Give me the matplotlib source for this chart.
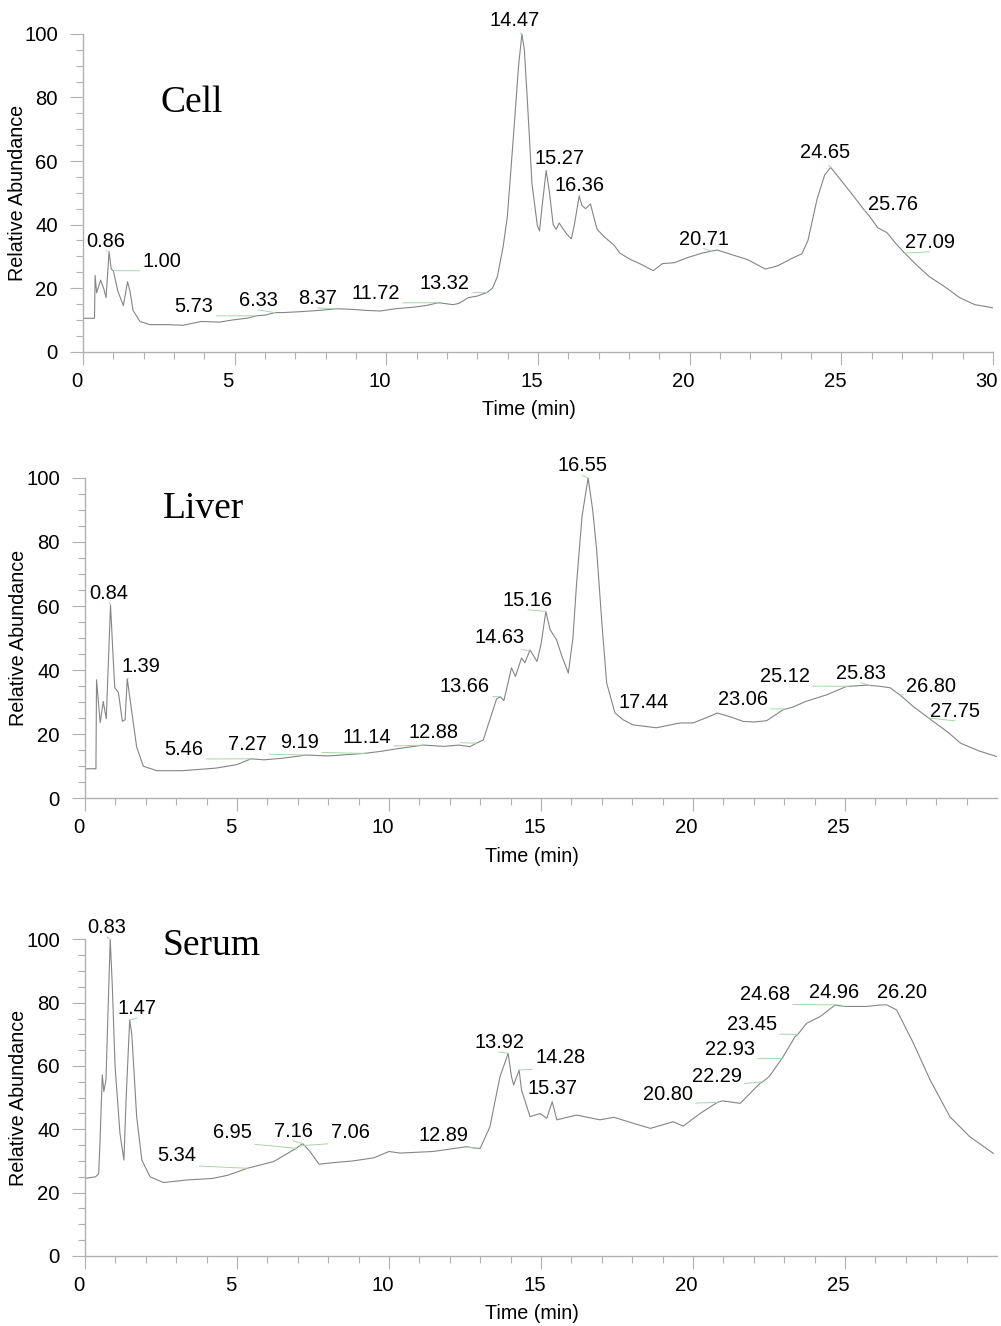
import numpy as np
import matplotlib
matplotlib.use('Agg')
import matplotlib.pyplot as plt
import matplotlib.transforms as mtransforms
from matplotlib.ticker import MultipleLocator, FixedLocator

plt.rcParams['font.family'] = ['Liberation Sans', 'DejaVu Sans']

# ---- Cell trace (time in min, relative abundance) ----
cell_t = [0.0, 0.38, 0.40, 0.45, 0.58, 0.68, 0.76, 0.86, 0.93, 1.00, 1.15, 1.33, 1.47, 1.55,
          1.65, 1.88, 2.2, 2.8, 3.3, 3.9, 4.5, 4.95, 5.4, 5.73, 6.0, 6.33, 6.6, 7.2, 7.8, 8.37,
          8.9, 9.3, 9.8, 10.3, 10.9, 11.3, 11.72, 12.2, 12.4, 12.7, 13.0, 13.32, 13.5, 13.66,
          13.85, 13.99, 14.2, 14.36, 14.47, 14.55, 14.65, 14.8, 14.98, 15.05, 15.15, 15.27,
          15.38, 15.5, 15.6, 15.7, 15.8, 15.95, 16.1, 16.2, 16.36, 16.45, 16.57, 16.73, 16.85,
          16.95, 17.2, 17.5, 17.7, 18.05, 18.4, 18.8, 19.1, 19.5, 19.9, 20.4, 20.9, 21.4, 21.9,
          22.2, 22.5, 22.9, 23.4, 23.7, 23.9, 24.2, 24.45, 24.65, 24.9, 25.4, 25.76, 25.9, 26.2,
          26.5, 26.8, 27.09, 27.4, 27.9, 28.4, 28.9, 29.4, 30.0]
cell_y = [10.5, 10.5, 24, 18.5, 22.5, 20, 17, 31.5, 26, 25.5, 19, 14.5, 22, 19,
          13, 9.5, 8.5, 8.5, 8.3, 9.5, 9.3, 10, 10.5, 11.3, 11.5, 12.3, 12.3, 12.6, 13.0, 13.5,
          13.3, 13.0, 12.8, 13.5, 14, 14.5, 15.4, 14.8, 15.2, 17, 17.5, 18.6, 20, 23.6,
          33, 42.5, 69, 90, 100, 95, 79, 53, 39.6, 38, 47, 57,
          50, 40, 38.5, 40.5, 39, 37, 35.5, 40, 49, 46, 45, 46.5, 42,
          38.5, 36, 33.6, 31, 29, 27.5, 25.5, 27.7, 28, 29.5, 31, 32, 30.5, 29,
          27.5, 26, 27, 29.5, 30.8, 35, 48, 55.6, 58, 55, 49, 44.5, 43, 39,
          37.5, 34, 31, 28, 23.6, 20.5, 17, 14.8, 13.8]
cell_peaks = ['0.86', '1.00', '5.73', '6.33', '8.37', '11.72', '13.32', '14.47', '15.27',
              '16.36', '20.71', '24.65', '25.76', '27.09']

# ---- Liver trace ----
liver_t = [0.0, 0.36, 0.38, 0.5, 0.6, 0.7, 0.84, 0.92, 0.98, 1.1, 1.23, 1.32, 1.39, 1.53,
           1.7, 1.92, 2.36, 3.2, 4.3, 5.0, 5.46, 5.9, 6.5, 7.07, 7.27, 8.0, 9.19, 9.7, 10.3,
           11.14, 11.8, 12.3, 12.66, 12.88, 13.1, 13.3, 13.54, 13.66, 13.78, 14.03, 14.16,
           14.36, 14.47, 14.64, 14.87, 15.0, 15.16, 15.3, 15.51, 15.7, 15.9, 16.05, 16.17,
           16.35, 16.55, 16.7, 16.83, 17.0, 17.16, 17.43, 17.7, 18.03, 18.8, 19.57, 20.0,
           20.4, 20.8, 21.2, 21.65, 22.0, 22.42, 22.96, 23.3, 23.7, 24.4, 25.05, 25.7, 26.1,
           26.48, 26.8, 27.25, 27.9, 28.4, 28.8, 29.4, 30.0]
liver_y = [9.2, 9.2, 37, 23.6, 30.2, 24.8, 60.4, 45, 34.5, 33, 24, 24.5, 37.3, 27.6,
           16, 10, 8.6, 8.6, 9.4, 10.5, 12.3, 12.0, 12.5, 13.2, 13.5, 13.2, 14.0, 14.6, 15.5,
           16.6, 16.2, 16.6, 16.1, 17.2, 18.2, 24, 31, 31.7, 30.5, 40.7, 38,
           43.8, 42.3, 46.3, 42.7, 48, 58.3, 52.6, 49.5, 44, 39.1, 50, 67,
           88, 100, 90, 77.6, 55, 36, 26.7, 24.5, 22.9, 22, 23.5, 23.5,
           25, 26.6, 25.5, 24, 23.8, 24.2, 27.6, 28.5, 30.2, 32.3, 34.9, 35.3, 35,
           34.5, 32.3, 28.6, 24, 20.5, 17.2, 14.8, 13]
liver_peaks = ['0.84', '1.39', '5.46', '7.27', '9.19', '11.14', '12.88', '13.66', '14.63',
               '15.16', '16.55', '17.44', '23.06', '25.12', '25.83', '26.80', '27.75']

# ---- Serum trace ----
serum_t = [0.0, 0.35, 0.45, 0.49, 0.57, 0.62, 0.69, 0.83, 0.9, 0.99, 1.15, 1.28, 1.35, 1.47,
           1.54, 1.7, 1.87, 2.14, 2.58, 3.35, 4.2, 4.7, 5.34, 6.2, 6.95, 7.16, 7.4, 7.7, 8.2,
           8.8, 9.5, 10.0, 10.36, 11.45, 12.55, 12.89, 13.0, 13.32, 13.65, 13.92, 14.03, 14.1,
           14.28, 14.36, 14.64, 14.97, 15.19, 15.37, 15.52, 16.17, 16.94, 17.4, 18.04, 18.6,
           19.35, 19.68, 20.23, 20.8, 20.97, 21.55, 22.2, 22.29, 22.5, 22.93, 23.36, 23.45,
           23.74, 24.18, 24.68, 24.96, 25.7, 26.20, 26.37, 26.7, 27.25, 27.8, 28.45, 29.1, 29.88]
serum_y = [24.5, 25, 26, 35, 57.2, 51.9, 55.6, 100, 85, 59.8, 38.8, 30.3, 49, 74.5,
           70, 44, 30.3, 25, 23.2, 24, 24.5, 25.5, 27.7, 29.8, 34, 35.5, 33, 29, 29.5,
           30, 31, 33, 32.5, 33, 34.5, 34, 34, 40.8, 56.6, 64, 56.6, 54,
           58.7, 52.4, 44, 45, 43.5, 48.7, 43, 44.5, 43, 43.8, 41.9, 40.3,
           42.4, 41, 45, 48.5, 49, 48.2, 54.5, 55, 56.6, 62.4, 69.3, 70,
           73.5, 75.6, 79.3, 78.8, 78.8, 79.3, 79.3, 77.7, 67.2, 55.6, 44, 37.7, 32.4]
serum_peaks = ['0.83', '1.47', '5.34', '6.95', '7.16', '7.06', '12.89', '13.92', '14.28',
               '15.37', '20.80', '22.29', '22.93', '23.45', '24.68', '24.96', '26.20']

# label text positions (center x, baseline y) in data units
cell_label_pos = [(0.76, 33.0), (2.60, 26.7), (3.66, 12.5), (5.77, 14.4), (7.74, 15.0),
                  (9.65, 16.6), (11.93, 19.8), (14.23, 102.4), (15.72, 59.2), (16.38, 50.7),
                  (20.46, 33.7), (24.48, 60.8), (26.69, 44.6), (27.91, 32.7)]
liver_label_pos = [(0.79, 62.3), (1.84, 39.5), (3.26, 13.5), (5.33, 15.1), (7.07, 15.7),
                   (9.28, 17.3), (11.45, 18.8), (12.5, 33.2), (13.65, 48.5), (14.57, 60.1),
                   (16.35, 102.0), (18.36, 28.2), (21.64, 29.2), (23.03, 36.3), (25.53, 37.3),
                   (27.83, 33.2), (28.62, 25.4)]
serum_label_pos = [(0.72, 102.0), (1.71, 76.4), (3.03, 30.0), (4.85, 37.2), (6.85, 37.6),
                   (8.72, 37.2), (11.78, 36.4), (13.62, 65.7), (15.63, 60.9), (15.39, 51.2),
                   (19.18, 49.3), (20.79, 54.9), (21.22, 63.5), (21.94, 71.4), (22.37, 80.8),
                   (24.64, 81.5), (26.88, 81.5)]

AXIS_GREY = '#b0b0b0'
TRACE_GREY = '#858585'
LEADER_GREEN = '#a3d9a3'
FS = 14.4


def draw_panel(fig, ax, t, y, peaks, label_pos, name, name_xy, show_30):
    """Draw one chromatogram panel"""
    ax.plot(t, y, color=TRACE_GREY, linewidth=0.8)

    for lab, (lx, ly) in zip(peaks, label_pos):
        rt = float(lab)
        py = np.interp(rt, t, y)
        ax.annotate(lab, xy=(rt, py), xytext=(lx, ly), ha='center', va='baseline',
                    fontsize=FS, color='black', annotation_clip=False,
                    arrowprops=dict(arrowstyle='-', color=LEADER_GREEN, lw=0.7,
                                    shrinkA=0, shrinkB=0, relpos=(0.5, 0.0)))

    ax.text(name_xy[0], name_xy[1], name, transform=ax.transAxes, ha='left', va='center',
            fontsize=27, family='Liberation Serif')

    ax.set_xlim(0, 30)
    ax.set_ylim(0, 100)
    if show_30:
        ax.xaxis.set_major_locator(FixedLocator([0, 5, 10, 15, 20, 25, 30]))
    else:
        ax.xaxis.set_major_locator(FixedLocator([0, 5, 10, 15, 20, 25]))
    ax.xaxis.set_minor_locator(FixedLocator([i for i in range(1, 30) if i % 5 != 0]))
    ax.yaxis.set_major_locator(MultipleLocator(20))
    ax.yaxis.set_minor_locator(MultipleLocator(5))

    for s in ['top', 'right']:
        ax.spines[s].set_visible(False)
    for s in ['left', 'bottom']:
        ax.spines[s].set_color(AXIS_GREY)
        ax.spines[s].set_linewidth(1.0)

    ax.tick_params(which='major', length=9.5, width=0.8, color=AXIS_GREY, labelsize=14.6)
    ax.tick_params(which='minor', length=5, width=0.8, color=AXIS_GREY)
    ax.tick_params(axis='y', which='major', pad=8.5)
    ax.tick_params(axis='x', which='major', pad=5)

    # x tick labels sit a little left of their ticks in the original
    shift = mtransforms.ScaledTranslation(-6.5 / 100, 0, fig.dpi_scale_trans)
    for lbl in ax.get_xticklabels():
        lbl.set_transform(lbl.get_transform() + shift)

    ax.set_ylabel('Relative Abundance', fontsize=14.2)
    ax.yaxis.set_label_coords(-0.062, 0.5)
    ax.set_xlabel('Time (min)', fontsize=14.2)
    ax.xaxis.set_label_coords(0.49, -0.152)


def main():
    fig = plt.figure(figsize=(10.01, 13.26), dpi=100)
    ax1 = fig.add_axes([0.0829, 0.7348, 0.9091, 0.2396])
    ax2 = fig.add_axes([0.0849, 0.3980, 0.9111, 0.2416])
    ax3 = fig.add_axes([0.0849, 0.0528, 0.9111, 0.2388])

    draw_panel(fig, ax1, cell_t, cell_y, cell_peaks, cell_label_pos, 'Cell', (0.085, 0.783), True)
    draw_panel(fig, ax2, liver_t, liver_y, liver_peaks, liver_label_pos, 'Liver', (0.085, 0.904), False)
    draw_panel(fig, ax3, serum_t, serum_y, serum_peaks, serum_label_pos, 'Serum', (0.085, 0.981), False)

    fig.savefig('out.png', dpi=100)


if __name__ == "__main__":
    main()
